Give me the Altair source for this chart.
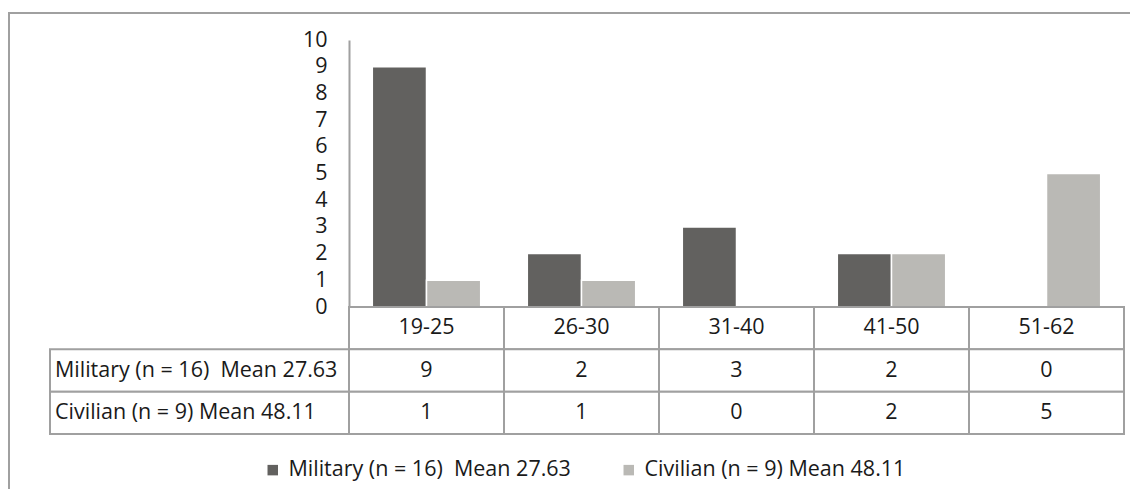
import altair as alt
import pandas as pd

categories = ["19-25", "26-30", "31-40", "41-50", "51-62"]
series = ["Military (n = 16)\u00a0 Mean 27.63", "Civilian (n = 9) Mean 48.11"]
military = [9, 2, 3, 2, 0]
civilian = [1, 1, 0, 2, 5]
y_ticks = list(range(0, 11))
colors = ["#62615f", "#bab9b5"]

FONT = "Open Sans"
FS = 21.5
GRID = "#a0a0a0"
TXT = "#1a1a1a"
W, H = 775, 267

rows = []
for c, m, v in zip(categories, military, civilian):
    rows.append({"cat": c, "series": series[0], "value": m})
    rows.append({"cat": c, "series": series[1], "value": v})
bars_df = pd.DataFrame(rows)

table_rows = ["header"] + series
cells = []
for i, c in enumerate(categories):
    cells.append({"cat": c, "row": "header", "label": c})
    cells.append({"cat": c, "row": series[0], "label": str(military[i])})
    cells.append({"cat": c, "row": series[1], "label": str(civilian[i])})
cells_df = pd.DataFrame(cells)
labels_df = pd.DataFrame({"row": series, "label": series})

x_scale = alt.Scale(domain=categories, paddingInner=0, paddingOuter=0)
ty_scale = alt.Scale(domain=table_rows, range=[H, H + 127], paddingInner=0, paddingOuter=0)

frame = alt.Chart(pd.DataFrame({"k": [0]})).mark_rect(
    filled=False, stroke=GRID, strokeWidth=2
).encode(x=alt.value(-340), x2=alt.value(900), y=alt.value(-27), y2=alt.value(600))

bars = alt.Chart(bars_df).mark_bar(stroke="white", strokeWidth=1.5).encode(
    x=alt.X("cat:N", scale=x_scale, sort=categories, axis=None),
    xOffset=alt.XOffset("series:N", sort=series,
                        scale=alt.Scale(domain=series, paddingInner=0, paddingOuter=0.43)),
    y=alt.Y("value:Q", scale=alt.Scale(domain=[0, 10], nice=False),
            axis=alt.Axis(values=y_ticks, ticks=False, grid=False, labelPadding=22,
                          title=None, domainColor=GRID, domainWidth=2,
                          labelFont=FONT, labelFontSize=FS, labelColor=TXT)),
    color=alt.Color("series:N", sort=series,
                    scale=alt.Scale(domain=series, range=colors),
                    legend=alt.Legend(orient="none", legendX=-87, legendY=419,
                                      direction="horizontal", title=None,
                                      symbolType="square", symbolSize=110,
                                      symbolStrokeWidth=0, labelOffset=5,
                                      columnPadding=47, labelFont=FONT, labelLimit=0,
                                      labelFontSize=FS, labelColor=TXT, padding=0)),
)

cell_rect = alt.Chart(cells_df).mark_rect(fill="white", stroke=GRID, strokeWidth=2).encode(
    x=alt.X("cat:N", scale=x_scale, sort=categories, axis=None),
    y=alt.Y("row:N", scale=ty_scale, sort=table_rows, axis=None),
)
cell_text = alt.Chart(cells_df).mark_text(font=FONT, fontSize=FS, color=TXT).encode(
    x=alt.X("cat:N", scale=x_scale, sort=categories, axis=None),
    y=alt.Y("row:N", scale=ty_scale, sort=table_rows, axis=None),
    text="label:N",
)
row_rect = alt.Chart(labels_df).mark_rect(fill="white", stroke=GRID, strokeWidth=2).encode(
    x=alt.value(-299), x2=alt.value(0),
    y=alt.Y("row:N", scale=ty_scale, sort=table_rows, axis=None),
)
row_text = alt.Chart(labels_df).mark_text(font=FONT, fontSize=FS, color=TXT, align="left").encode(
    x=alt.value(-294),
    y=alt.Y("row:N", scale=ty_scale, sort=table_rows, axis=None),
    text="label:N",
)

chart = alt.layer(frame, bars, cell_rect, cell_text, row_rect, row_text).resolve_scale(
    y="independent"
).properties(
    width=W, height=H,
    autosize=alt.AutoSizeParams(type="none"),
    padding={"left": 341, "top": 32, "right": 6, "bottom": 182},
).configure_view(stroke=None)

chart.save("out.html", embed_options={"renderer": "svg", "actions": False})
